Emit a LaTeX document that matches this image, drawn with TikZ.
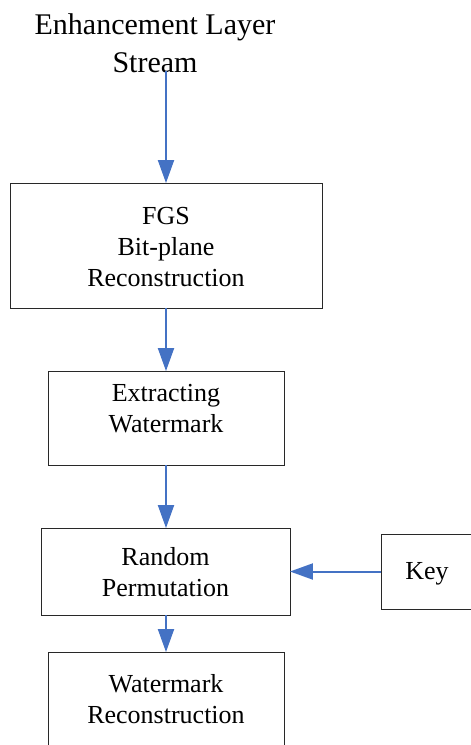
\documentclass[tikz,border=0pt]{standalone}
\usepackage{fontspec}
\setmainfont{Liberation Serif}
\usetikzlibrary{arrows.meta}
\definecolor{arrowblue}{RGB}{68,114,196}
\definecolor{boxline}{RGB}{40,40,40}
\tikzset{
  box/.style={draw=boxline, line width=0.9pt, rectangle, inner sep=0pt},
  boxtext/.style={align=center, inner sep=0pt, font=\fontsize{26}{31}\selectfont},
  flow/.style={draw=arrowblue, line width=2pt, -{Triangle[length=23pt,width=16pt]}, shorten >=-0.5pt}
}
\begin{document}
\begin{tikzpicture}[x=1pt,y=-1pt]
\clip (0,0) rectangle (471,745);
\useasboundingbox (0,0) rectangle (471,745);
% title
\node[align=center, inner sep=0pt, font=\fontsize{30}{38}\selectfont] (title) at (155,43) {Enhancement Layer\\Stream};
\coordinate (tstart) at (166,71);
% boxes
\node[box, minimum width=312pt, minimum height=125pt] (fgs) at (166,245.5) {};
\node[boxtext] (fgst) at (166,247) {FGS\\Bit-plane\\Reconstruction};
\node[box, minimum width=236pt, minimum height=94pt] (ext) at (166,418) {};
\node[boxtext] (extt) at (166,409) {Extracting\\Watermark};
\node[box, minimum width=249pt, minimum height=87pt] (rnd) at (165.5,571.5) {};
\node[boxtext] (rndt) at (165.5,572.5) {Random\\Permutation};
\node[box, minimum width=94pt, minimum height=75pt] (key) at (428,571.5) {};
\node[boxtext] (keyt) at (427,574) {Key};
\node[box, minimum width=236pt, minimum height=120pt] (wmr) at (166,712) {};
\node[boxtext] (wmrt) at (166,699) {Watermark\\Reconstruction};
% arrows
\draw[flow] (tstart) -- (fgs.north);
\draw[flow] (fgs.south) -- (ext.north);
\draw[flow] (ext.south) -- (rnd.north -| ext.south);
\draw[flow] (key.west) -- (rnd.east);
\draw[flow] (rnd.south -| wmr.north) -- (wmr.north);
\end{tikzpicture}
\end{document}
